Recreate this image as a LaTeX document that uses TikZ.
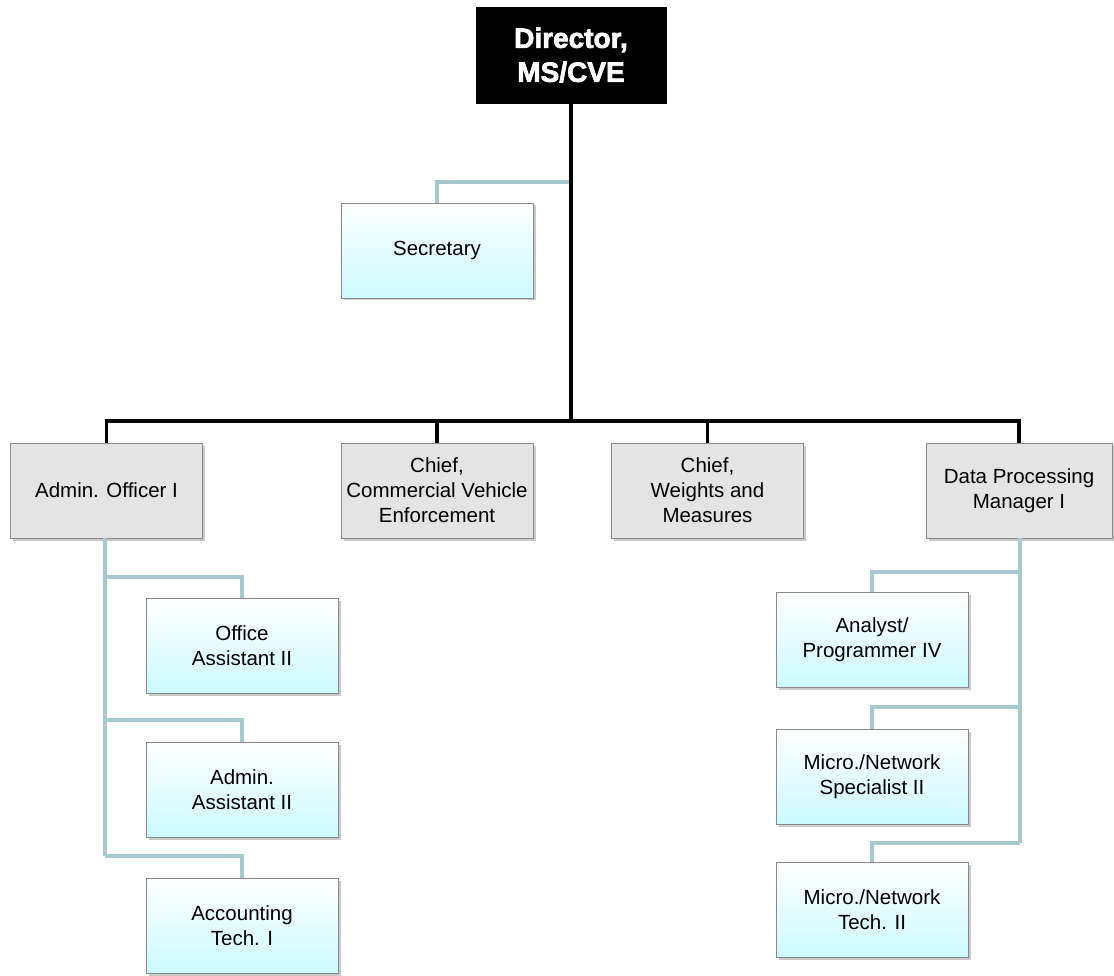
\documentclass[tikz,border=0pt]{standalone}
\usepackage{fontspec}
\setmainfont{Liberation Sans}
\newfontfamily\heavyfont[FakeBold=2.5]{Liberation Sans Bold}
\usetikzlibrary{shadows}
\definecolor{tealline}{HTML}{A5C9CE}
\definecolor{boxborder}{HTML}{8A8A8A}
\definecolor{cyanbot}{HTML}{CCFAFF}
\definecolor{graybox}{HTML}{E4E4E4}
\tikzset{
  base/.style={draw=boxborder, line width=0.8pt, minimum width=192pt, minimum height=95pt,
    align=center, inner sep=2pt, font=\fontsize{20.5}{25}\selectfont,
    drop shadow={shadow xshift=2.5pt, shadow yshift=-2.5pt, opacity=0.35, fill=black!60}},
  cyanbox/.style={base, top color=white, bottom color=cyanbot},
  graybx/.style={base, fill=graybox},
  dirbox/.style={draw=black, fill=black, text=white, minimum width=190pt, minimum height=96pt,
    align=center, font=\fontsize{28}{34}\heavyfont},
  blk/.style={draw=black, line width=3.5pt},
  tl/.style={draw=tealline, line width=3.5pt},
}
\begin{document}
\begin{tikzpicture}[x=1pt,y=-1pt]
\useasboundingbox (0,0) rectangle (1114,976);
% nodes
\node[dirbox] (dir) at (571,55) {Director,\\MS/CVE};
\node[cyanbox] (sec) at (437,250.5) {Secretary};
\node[graybx] (ao) at (106.5,490.5) {Admin. Officer I};
\node[graybx] (cve) at (437,490.5) {Chief,\\Commercial Vehicle\\Enforcement};
\node[graybx] (wm) at (707.5,490.5) {Chief,\\Weights and\\Measures};
\node[graybx, minimum width=186pt] (dp) at (1019,490.5) {Data Processing\\Manager I};
\node[cyanbox] (oa) at (242,646) {Office\\Assistant II};
\node[cyanbox] (aa) at (242,789.5) {Admin.\\Assistant II};
\node[cyanbox] (acc) at (242,925.5) {Accounting\\Tech. I};
\node[cyanbox] (ap) at (872,640) {Analyst/\\Programmer IV};
\node[cyanbox] (ns) at (872,776.5) {Micro./Network\\Specialist II};
\node[cyanbox] (nt) at (872,909.5) {Micro./Network\\Tech. II};
% junction coordinates
\coordinate (j1) at (571,182);
\coordinate (hb) at (571,421);
\coordinate (l1) at (105,577);
\coordinate (l2) at (105,720);
\coordinate (l3) at (105,856);
\coordinate (r1) at (1020,572);
\coordinate (r2) at (1020,707);
\coordinate (r3) at (1020,843);
% connectors
\draw[tl] (j1) -| (sec.north);
\draw[blk] (dir.south) -- (hb);
\draw[blk] (ao.north) |- (hb) -| (dp.north);
\draw[blk] (cve.north) -- (cve.north |- hb);
\draw[blk] (wm.north) -- (wm.north |- hb);
\draw[tl] (ao.south -| l1) -- (l3);
\draw[tl] (l1) -| (oa.north);
\draw[tl] (l2) -| (aa.north);
\draw[tl] (l3) -| (acc.north);
\draw[tl] (dp.south -| r1) -- (r3);
\draw[tl] (r1) -| (ap.north);
\draw[tl] (r2) -| (ns.north);
\draw[tl] (r3) -| (nt.north);
\end{tikzpicture}
\end{document}
